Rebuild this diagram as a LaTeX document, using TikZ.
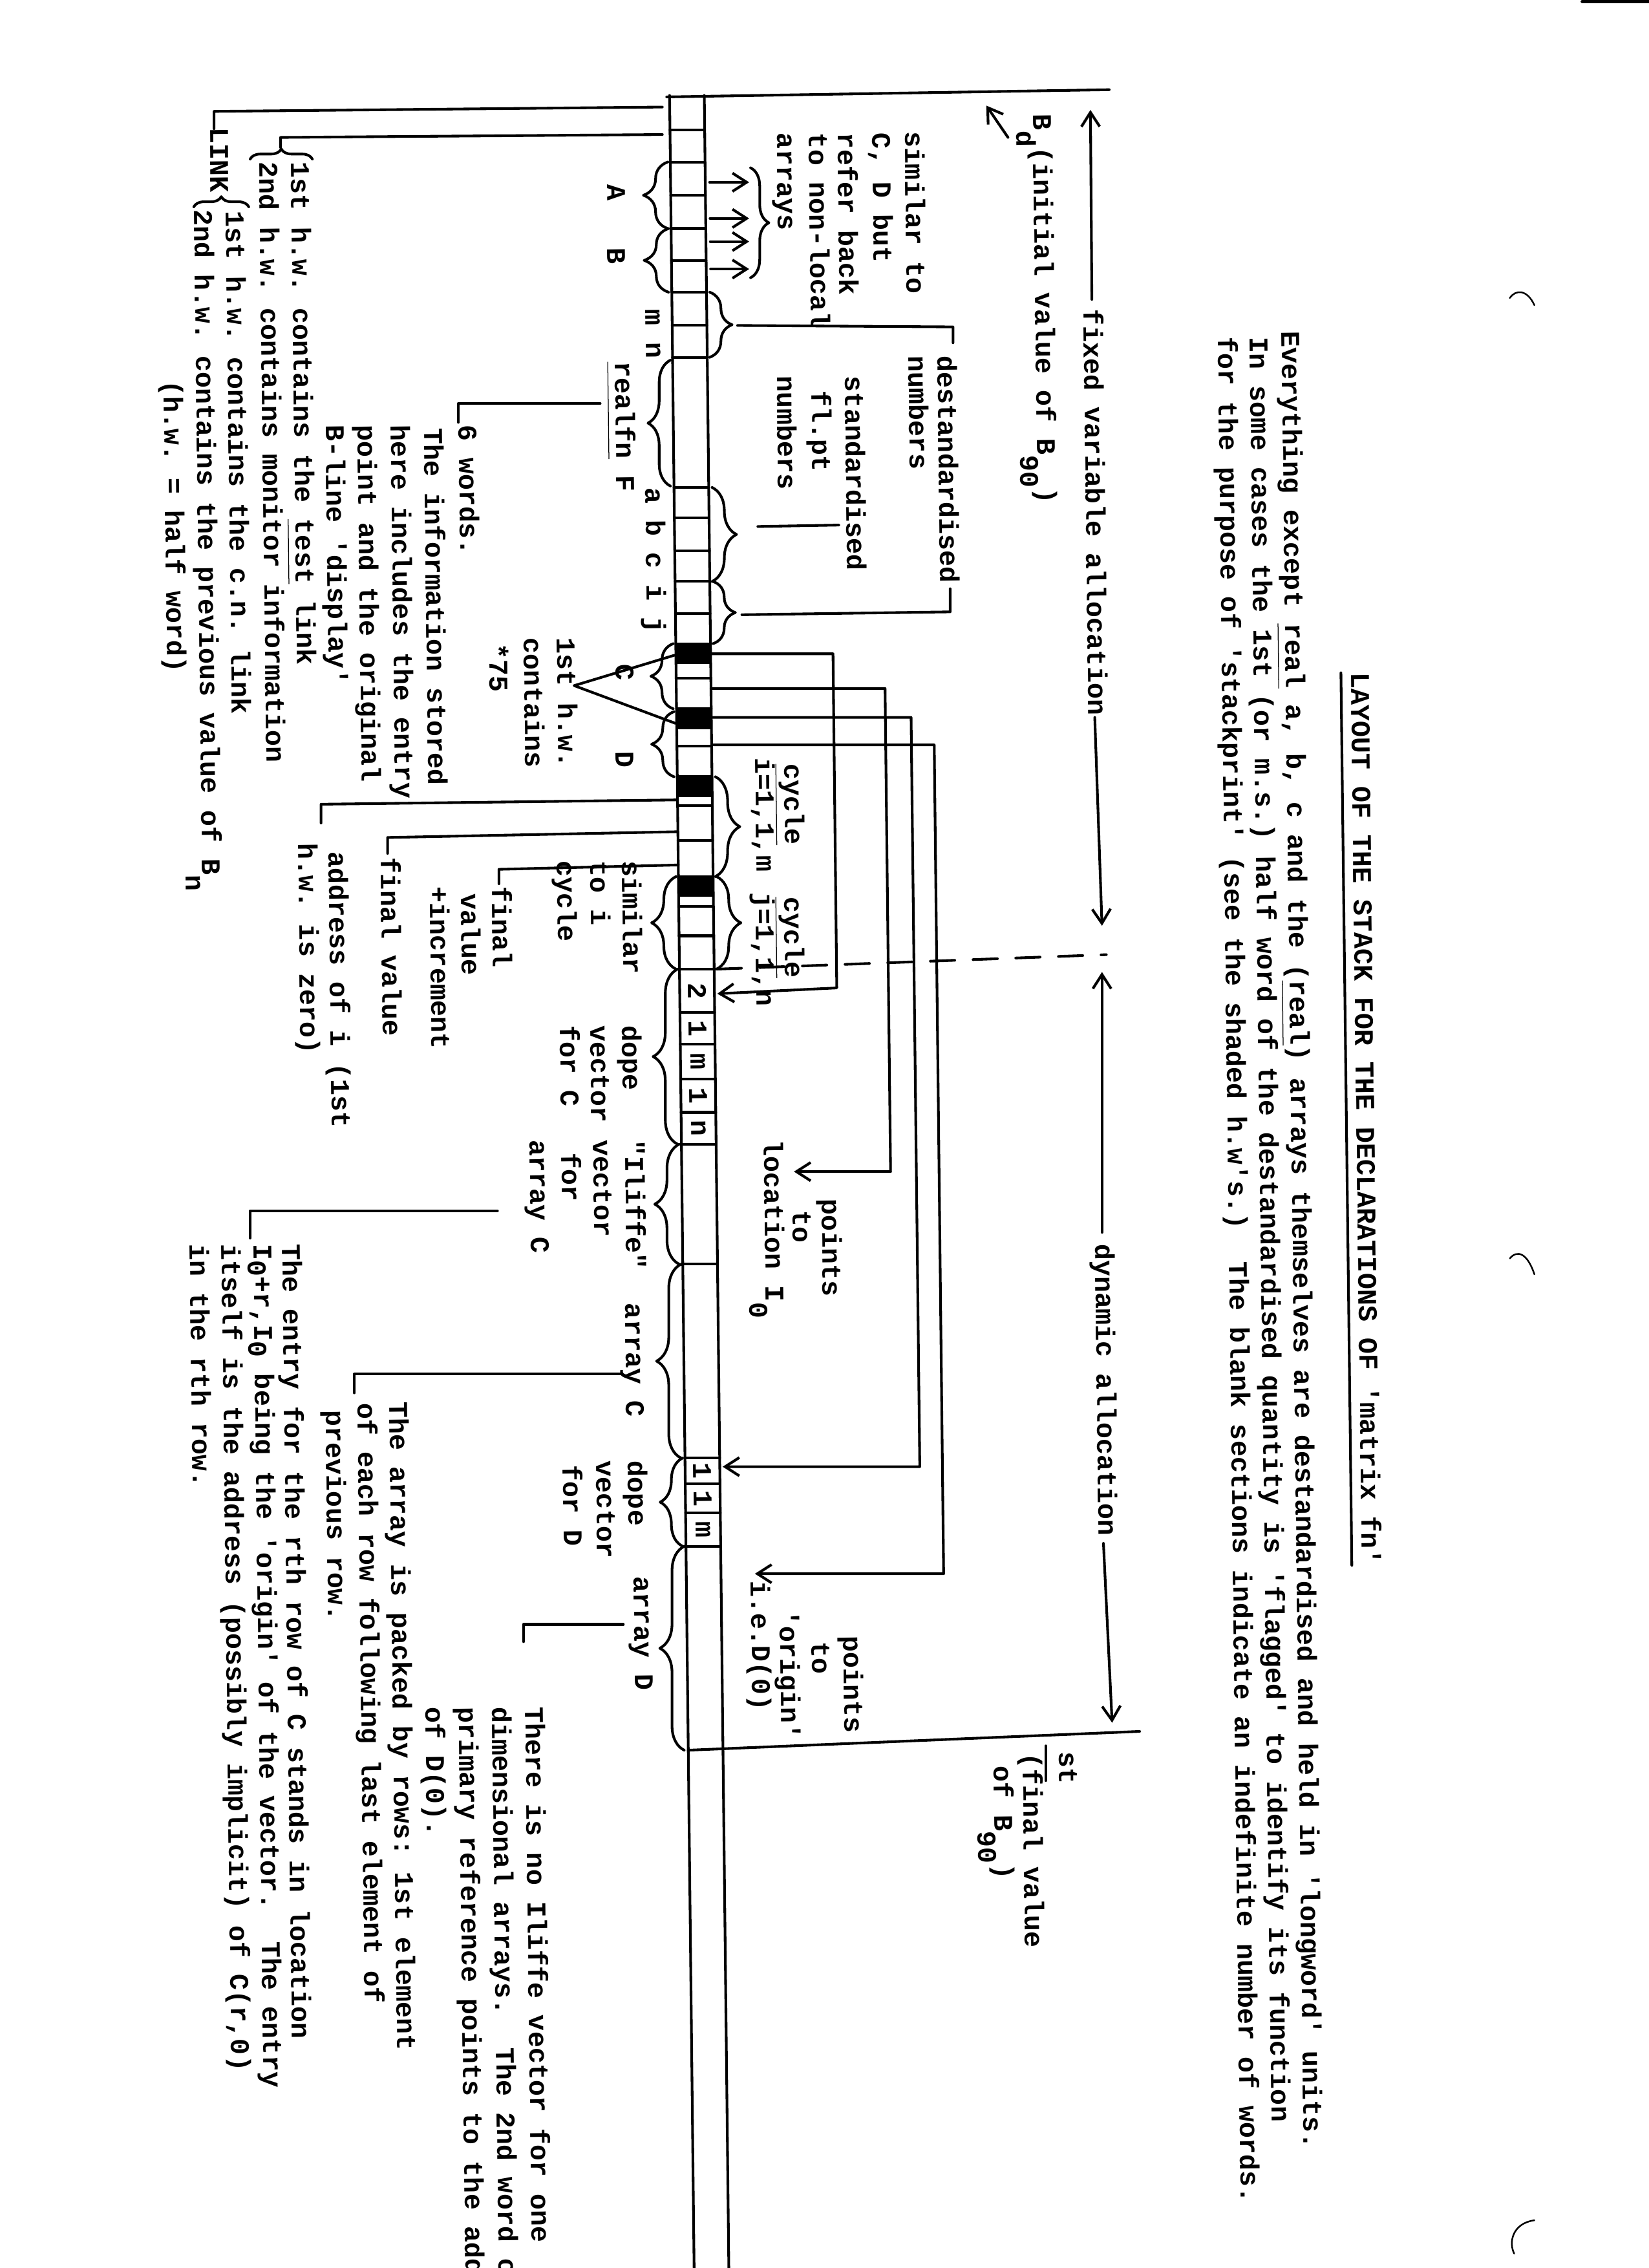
\documentclass[tikz,border=0pt]{standalone}
\usepackage{fontspec}
\setmonofont{Liberation Mono}
\usetikzlibrary{decorations.pathreplacing,arrows.meta}
\newcommand{\tf}{\fontsize{13.3}{15}\selectfont\ttfamily\bfseries}
\newcommand{\lo}[1]{\raisebox{-0.62em}{#1}}
\newcommand{\ul}[1]{\underline{#1\rule[-2.2pt]{0pt}{0pt}}}
\begin{document}
\begin{tikzpicture}[x=0.25mm, y=-0.25mm, line width=1.3pt, line cap=round, line join=round,
 declare function={cl(\v)=463+0.0113*(\v-68);},
 txt/.style={rotate=-89.3, anchor=west, inner sep=0pt, outer sep=0pt, text height=9.6pt, text depth=2.9pt, font=\tf},
 ch/.style={rotate=-89.3, anchor=center, inner sep=0pt, outer sep=0pt, font=\tf},
 brc/.style={decorate, decoration={brace, amplitude=#1}},
 arr/.style={-{Straight Barb[length=7pt, width=9pt]}}]
\useasboundingbox (0,0) rectangle (1140,1568);
\fill[white] (0,0) rectangle (1140,1568);

% ---------- the stack column ----------
\draw (463,66) -- ({cl(1585)},1585);
\draw (487,66) -- ({cl(1585)+24},1585);
\coordinate (tl1) at (461,67); \coordinate (tl2) at (767,62);
\draw (tl1) -- (tl2);
\foreach \yy in {90,112,135,158,180,202,225,247,337,358,381,402,424,445,469,490,516,537,557,581,606,626.5,647,670,700,722,746,769,791,874,1008,1026,1046,1069}
  \draw ({cl(\yy)},\yy) -- ({cl(\yy)+24},\yy);
\foreach \yy in {445,490,537,606}
  \fill ({cl(\yy)},\yy) rectangle ({cl(\yy)+24},\yy+14);
\coordinate (bl1) at ({cl(1210)},1210); \coordinate (bl2) at (788,1197);
\draw (bl1) -- (bl2);

% contents of dope vectors
\node[ch] (dc1) at ({cl(685)+12},685) {2};
\node[ch] (dc2) at ({cl(711)+12},711) {1};
\node[ch] (dc3) at ({cl(734)+12},734) {m};
\node[ch] (dc4) at ({cl(757.5)+12},757.5) {1};
\node[ch] (dc5) at ({cl(780)+12},780) {n};
\node[ch] (dd1c) at ({cl(1017)+12},1017) {1};
\node[ch] (dd2c) at ({cl(1036)+12},1036) {1};
\node[ch] (dd3c) at ({cl(1057.5)+12},1057.5) {m};

% ---------- title and heading text ----------
\node[txt] (title) at (939,465) {LAYOUT OF THE STACK FOR THE DECLARATIONS OF 'matrix fn'};
\draw ([xshift=-3*0.25mm]title.south west) -- ([xshift=-3*0.25mm]title.south east);
\node[txt] (b1) at (891,229) {Everything except \ul{real} a, b, c and the (\ul{real}) arrays themselves are destandardised and held in 'longword' units.};
\node[txt] (b2) at (869,233) {In some cases the 1st (or m.s.) half word of the destandardised quantity is 'flagged' to identify its function};
\node[txt] (b3) at (847,233) {for the purpose of 'stackprint' (see the shaded h.w's.)~ The blank sections indicate an indefinite number of words.};

% ---------- allocation arrows ----------
\node[txt] (fva) at (754,214) {fixed variable allocation};
\coordinate (fa1) at (755,207); \coordinate (fa2) at (754,76);
\coordinate (fb1) at (757,496); \coordinate (fb2) at (762,640);
\draw[arr] (fa1) -- (fa2);
\draw[arr] (fb1) -- (fb2);
\coordinate (ds1) at ({cl(670)+26},670); \coordinate (ds2) at (765,660);
\draw[dash pattern=on 12pt off 9pt] (ds1) -- (ds2);
\node[txt] (dyn) at (762,860) {dynamic allocation};
\coordinate (dy1) at (762,852); \coordinate (dy2) at (762,672);
\coordinate (dy3) at (763,1067); \coordinate (dy4) at (769,1191);
\draw[arr] (dy1) -- (dy2);
\draw[arr] (dy3) -- (dy4);

\node[txt] (bd) at (719,79) {B\lo{d}(initial value of B\lo{90})};
\coordinate (ba1) at (697,95); \coordinate (ba2) at (682,73);
\draw[arr] (ba1) -- (ba2);
\node[txt] (st) at (737,1211) {st};
\coordinate (su1) at (723,1207); \coordinate (su2) at (723,1231);
\draw (su1) -- (su2);
\node[txt] (fv1) at (712,1212) {(final value};
\node[txt] (fv2) at (692,1221) {of B\lo{90})};

% ---------- right side annotations ----------
\node[txt] (s1) at (630.5,91) {similar to};
\node[txt] (s2) at (608,92) {C, D but};
\node[txt] (s3) at (584,92) {refer back};
\node[txt] (s4) at (564,92) {to non-local};
\node[txt] (s5) at (542,92) {arrays};
\draw[brc=9pt] (519,116) -- (519,192);
\foreach \yy/\nm in {126/ra,151/rb,167/rc,186/rd} {
  \coordinate (\nm1) at ({cl(\yy)+27},\yy); \coordinate (\nm2) at (518,\yy);
  \draw[arr] (\nm1) -- (\nm2);
}
\draw[brc=11pt] ({cl(224)+26},202) -- ({cl(224)+26},247);
\coordinate (mn1) at (510,225); \coordinate (mn2) at (659,226); \coordinate (mn3) at (659,237);
\draw (mn1) -- (mn2) -- (mn3);
\node[txt] (dn1) at (653,246) {destandardised};
\node[txt] (dn2) at (633,246) {numbers};
\draw[brc=12pt] ({cl(370)+26},337) -- ({cl(370)+26},402);
\coordinate (ab1) at (524,364); \coordinate (ab2) at (580,363);
\draw (ab1) -- (ab2);
\node[txt] (sn1) at (589,260) {standardised};
\node[txt] (sn2) at (566,270) {fl.pt};
\node[txt] (sn3) at (542,260) {numbers};
\draw[brc=11pt] ({cl(424)+26},402) -- ({cl(424)+26},445);
\coordinate (ij1) at (513,425); \coordinate (ij2) at (657,423); \coordinate (ij3) at (657,407);
\draw (ij1) -- (ij2) -- (ij3);

\draw[brc=12pt] ({cl(571)+26},537) -- ({cl(571)+26},606);
\node[txt] (cy1) at (547,528) {\ul{cycle}};
\node[txt] (cy2) at (527,524) {i=1,1,m};
\draw[brc=12pt] ({cl(638)+26},606) -- ({cl(638)+26},670);
\node[txt] (cy3) at (547,620) {\ul{cycle}};
\node[txt] (cy4) at (527,617) {j=1,1,n};

% long elbow connectors from the shaded words
\coordinate (e1a) at ({cl(452)+24},452); \coordinate (e1b) at (576,452); \coordinate (e1c) at (578.6,683); \coordinate (e1d) at ({cl(687)+26},687);
\draw[arr] (e1a) -- (e1b) -- (e1c) -- (e1d);
\coordinate (e2a) at ({cl(476)+24},476); \coordinate (e2b) at (612,476); \coordinate (e2c) at (615.8,810); \coordinate (e2d) at (549,810);
\draw[arr] (e2a) -- (e2b) -- (e2c) -- (e2d);
\coordinate (e3a) at ({cl(496)+24},496); \coordinate (e3b) at (630,496); \coordinate (e3c) at (636,1014); \coordinate (e3d) at ({cl(1014)+26},1014);
\draw[arr] (e3a) -- (e3b) -- (e3c) -- (e3d);
\coordinate (e4a) at ({cl(515)+24},515); \coordinate (e4b) at (646,515); \coordinate (e4c) at (652.5,1088); \coordinate (e4d) at (522,1088);
\draw[arr] (e4a) -- (e4b) -- (e4c) -- (e4d);
\node[txt] (p1) at (573,829) {points};
\node[txt] (p2) at (553,837) {to};
\node[txt] (p3) at (533,788) {location I\lo{0}};
\node[txt] (q1) at (588,1131) {points};
\node[txt] (q2) at (566,1135) {to};
\node[txt] (q3) at (544,1113) {'origin'};
\node[txt] (q4) at (524,1093) {i.e.D(0)};

% ---------- left side annotations ----------
\coordinate (ka1) at (458,74); \coordinate (ka2) at (148,77); \coordinate (ka3) at (148,89);
\draw (ka1) -- (ka2) -- (ka3);
\coordinate (kb1) at (458,93); \coordinate (kb2) at (194,95); \coordinate (kb3) at (194,102);
\draw (kb1) -- (kb2) -- (kb3);
\draw[brc=5pt] (173,110) -- (216,110);
\node[txt] (lk1) at (206,112) {1st h.w. contains the \ul{test} link};
\node[txt] (lk2) at (184,112) {2nd h.w. contains monitor information};
\node[txt] (lk) at (150,88) {LINK};
\draw[brc=5pt] (134,143) -- (172,143);
\node[txt] (lk3) at (161,146) {1st h.w. contains the c.n. link};
\node[txt] (lk4) at (139,145) {2nd h.w. contains the previous value of B\lo{n}};
\node[txt] (lk5) at (118,263) {(h.w. = half word)};

\draw[brc=12pt] ({cl(135)-2},158) -- ({cl(135)-2},112);
\node[ch] (la) at (426,133) {A};
\draw[brc=12pt] ({cl(180)-2},202) -- ({cl(180)-2},158);
\node[ch] (lb) at (426,177) {B};
\node[txt] (lmn) at (451,214) {m n};
\draw[brc=11pt] ({cl(292)-2},336) -- ({cl(292)-2},249);
\node[txt] (rf) at (430,250) {\ul{realfn} F};
\coordinate (rf1) at (415,279); \coordinate (rf2) at (317,279); \coordinate (rf3) at (317,292);
\draw (rf1) -- (rf2) -- (rf3);
\node[txt] (w1) at (322,294) {6 words.};
\node[txt] (w2) at (298,296) {The information stored};
\node[txt] (w3) at (275,294) {here includes the entry};
\node[txt] (w4) at (252,294) {point and the original};
\node[txt] (w5) at (230,294) {B-line 'display'};
\node[txt] (labc) at (451,337) {a b c i j};

\draw[brc=11pt] ({cl(467)-2},490) -- ({cl(467)-2},445);
\node[ch] (lc) at (432,465) {C};
\draw[brc=11pt] ({cl(514)-2},537) -- ({cl(514)-2},492);
\node[ch] (ld) at (432,525) {D};
\coordinate (va) at ({cl(453)-1},453); \coordinate (vt) at (397,474); \coordinate (vb) at ({cl(500)-1},500);
\draw (va) -- (vt) -- (vb);
\node[txt] (v1) at (390,441) {1st h.w.};
\node[txt] (v2) at (367,441) {contains};
\node[txt] (v3) at (343,445) {*75};

\coordinate (c1a) at ({cl(553)},553); \coordinate (c1b) at (222,556); \coordinate (c1c) at (222,569);
\draw (c1a) -- (c1b) -- (c1c);
\node[txt] (ci1) at (232,589) {address of i (1st};
\node[txt] (ci2) at (211,583) {h.w. is zero)};
\coordinate (c2a) at ({cl(575)},575); \coordinate (c2b) at (268,579); \coordinate (c2c) at (268,590);
\draw (c2a) -- (c2b) -- (c2c);
\node[txt] (ci3) at (268,593) {final value};
\coordinate (c3a) at ({cl(598)},598); \coordinate (c3b) at (345,601); \coordinate (c3c) at (345,611);
\draw (c3a) -- (c3b) -- (c3c);
\node[txt] (ci4) at (345,613) {final};
\node[txt] (ci5) at (323.5,618) {value};
\node[txt] (ci6) at (302,613) {+increment};

\draw[brc=12pt] ({cl(638)-2},670) -- ({cl(638)-2},606);
\node[txt] (sm1) at (435,595) {similar};
\node[txt] (sm2) at (413,595) {to i};
\node[txt] (sm3) at (390,595) {cycle};
\draw[brc=12pt] ({cl(730)-2},791) -- ({cl(730)-2},670);
\node[txt] (dp1) at (435,709) {dope};
\node[txt] (dp2) at (413,709) {vector};
\node[txt] (dp3) at (392,709) {for C};
\draw[brc=12pt] ({cl(832)-2},874) -- ({cl(832)-2},791);
\node[txt] (il1) at (437,788) {"Iliffe"};
\node[txt] (il2) at (415,788) {vector};
\node[txt] (il3) at (393,797) {for};
\node[txt] (il4) at (371,788) {array C};
\coordinate (if1) at (344,837); \coordinate (if2) at (173,837); \coordinate (if3) at (173,856);
\draw (if1) -- (if2) -- (if3);
\node[txt] (tx1) at (200,860) {The entry for the rth row of C stands in location};
\node[txt] (tx2) at (180,860) {I\raisebox{-0.22em}{0}+r,I\raisebox{-0.22em}{0} being the 'origin' of the vector.~ The entry};
\node[txt] (tx3) at (158,860) {itself is the address (possibly implicit) of C(r,0)};
\node[txt] (tx4) at (136,860) {in the rth row.};

\draw[brc=12pt] ({cl(941)-2},1008) -- ({cl(941)-2},874);
\node[txt] (ac) at (437,901) {array C};
\coordinate (ac1) at (430,950); \coordinate (ac2) at (245,950); \coordinate (ac3) at (245,963);
\draw (ac1) -- (ac2) -- (ac3);
\node[txt] (pk1) at (274,969) {The array is packed by rows: 1st element};
\node[txt] (pk2) at (252,970) {of each row following last element of};
\node[txt] (pk3) at (230,975) {previous row.};

\draw[brc=11pt] ({cl(1038)-2},1069) -- ({cl(1038)-2},1008);
\node[txt] (dd1) at (439,1010) {dope};
\node[txt] (dd2) at (417,1010) {vector};
\node[txt] (dd3) at (394,1013) {for D};
\draw[brc=12pt] ({cl(1140)-2},1210) -- ({cl(1140)-2},1069);
\node[txt] (ad) at (443,1090) {array D};
\coordinate (ad1) at (431,1123); \coordinate (ad2) at (362,1123); \coordinate (ad3) at (362,1135);
\draw (ad1) -- (ad2) -- (ad3);
\node[txt] (ne1) at (368,1180) {There is no Iliffe vector for one};
\node[txt] (ne2) at (345,1180) {dimensional arrays.~ The 2nd word of};
\node[txt] (ne3) at (322,1180) {primary reference points to the address};
\node[txt] (ne4) at (299,1180) {of D(0).};

% ---------- marks on the sheet ----------
\coordinate (m1a) at (1044,206); \coordinate (m1b) at (1061,211);
\draw[line width=0.8pt] (m1a) .. controls (1048,200) and (1056,200) .. (m1b);
\coordinate (m2a) at (1044,870); \coordinate (m2b) at (1061,881);
\draw[line width=0.8pt] (m2a) .. controls (1049,864) and (1056,866) .. (m2b);
\coordinate (m3a) at (1061,1535); \coordinate (m3b) at (1047,1558);
\draw[line width=0.8pt] (m3a) .. controls (1046,1537) and (1043,1550) .. (m3b);
\coordinate (m4a) at (1094,1); \coordinate (m4b) at (1140,1);
\draw[line width=1.5pt] (m4a) -- (m4b);
\end{tikzpicture}
\end{document}
